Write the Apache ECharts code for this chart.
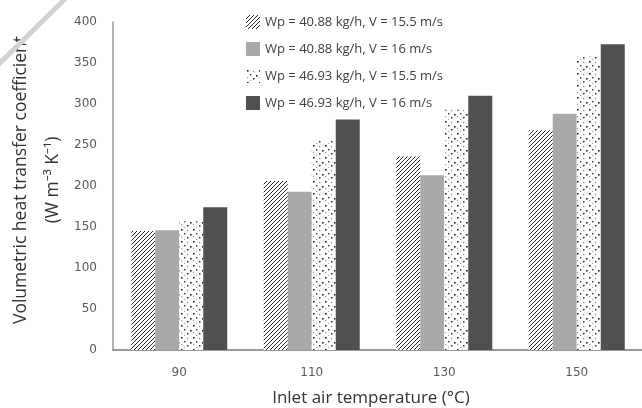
<!DOCTYPE html>
<html>
<head>
<meta charset="utf-8">
<script src="https://cdn.jsdelivr.net/npm/echarts@6/dist/echarts.min.js"></script>
<style>html,body{margin:0;padding:0;background:#fff}#c{width:642px;height:408px}</style>
</head>
<body>
<div id="c"></div>
<script>
const categories = ['90', '110', '130', '150'];
const seriesNames = [
  'Wp = 40.88 kg/h, V = 15.5 m/s',
  'Wp = 40.88 kg/h, V = 16 m/s',
  'Wp = 46.93 kg/h, V = 15.5 m/s',
  'Wp = 46.93 kg/h, V = 16 m/s'
];
const wp4088v155 = [145, 206, 236, 268];
const wp4088v16 = [146, 193, 213, 288];
const wp4693v155 = [157, 255, 293, 358];
const wp4693v16 = [174, 281, 310, 373];
const yTicks = [0, 50, 100, 150, 200, 250, 300, 350, 400];

function hatchPattern() {
  const c = document.createElement('canvas');
  c.width = 4; c.height = 4;
  const g = c.getContext('2d');
  g.fillStyle = '#fff'; g.fillRect(0, 0, 4, 4);
  g.strokeStyle = '#2a2a2a'; g.lineWidth = 1;
  g.beginPath();
  g.moveTo(-1, 5); g.lineTo(5, -1);
  g.moveTo(-1, 1); g.lineTo(1, -1);
  g.moveTo(3, 5); g.lineTo(5, 3);
  g.stroke();
  return { image: c, repeat: 'repeat' };
}
function dotPattern() {
  const c = document.createElement('canvas');
  c.width = 12; c.height = 12;
  const g = c.getContext('2d');
  g.fillStyle = '#fff'; g.fillRect(0, 0, 12, 12);
  const dots = [[1, 1, '#222', 1.6], [7, 2, '#888', 1.2], [4, 5, '#333', 1.4], [10, 6, '#222', 1.6], [1, 8, '#999', 1.2], [7, 9, '#333', 1.5], [4, 11, '#aaa', 1.1]];
  dots.forEach(d => { g.fillStyle = d[2]; g.fillRect(d[0], d[1], d[3], d[3]); });
  return { image: c, repeat: 'repeat' };
}

const colors = [hatchPattern(), '#a9a9ab', dotPattern(), '#505050'];
const values = [wp4088v155, wp4088v16, wp4693v155, wp4693v16];

const chart = echarts.init(document.getElementById('c'), null, { renderer: 'canvas' });
chart.setOption({
  backgroundColor: '#fff',
  animation: false,
  textStyle: { fontFamily: 'Open Sans' },
  legend: {
    orient: 'vertical',
    left: 241,
    top: 10,
    itemWidth: 14,
    itemHeight: 14,
    itemGap: 13,
    icon: 'rect',
    textStyle: { fontSize: 13, color: '#404040', fontFamily: 'Open Sans' },
    data: seriesNames
  },
  grid: { left: 113, top: 22, width: 530, height: 328, outerBoundsMode: 'none', containLabel: false },
  xAxis: {
    type: 'category',
    data: categories,
    name: 'Inlet air temperature (°C)',
    nameLocation: 'middle',
    nameGap: 40,
    nameMoveOverlap: false,
    nameTextStyle: { fontSize: 17, color: '#333', fontFamily: 'Open Sans', padding: [0, 14, 0, 0] },
    axisLine: { lineStyle: { color: '#999', width: 2 } },
    axisTick: { show: false },
    axisLabel: { fontSize: 12, color: '#595959', margin: 17, fontFamily: 'DejaVu Sans' }
  },
  yAxis: {
    type: 'value',
    min: 0,
    max: 400,
    interval: 50,
    name: 'Volumetric heat transfer coefficient\n(W m⁻³ K⁻¹)',
    nameLocation: 'middle',
    nameRotate: 90,
    nameGap: 44,
    nameMoveOverlap: false,
    nameTextStyle: { fontSize: 17.5, color: '#333', lineHeight: 32, fontFamily: 'Open Sans', padding: [0, 0, 0, 12] },
    axisLine: { show: true, lineStyle: { color: '#999', width: 1.5 } },
    axisTick: { show: false },
    splitLine: { show: false },
    axisLabel: { fontSize: 12, color: '#595959', margin: 16, fontFamily: 'DejaVu Sans',
      formatter: v => yTicks.includes(v) ? String(v) : '' }
  },
  graphic: [{
    type: 'line',
    shape: { x1: -4, y1: 67, x2: 68, y2: -4 },
    style: { stroke: '#d2d2d2', lineWidth: 5 },
    z: 100
  }],
  series: values.map((v, i) => ({
    name: seriesNames[i],
    type: 'bar',
    data: v,
    barWidth: 24,
    barGap: '0%',
    itemStyle: { color: colors[i] }
  }))
});
</script>
</body>
</html>
